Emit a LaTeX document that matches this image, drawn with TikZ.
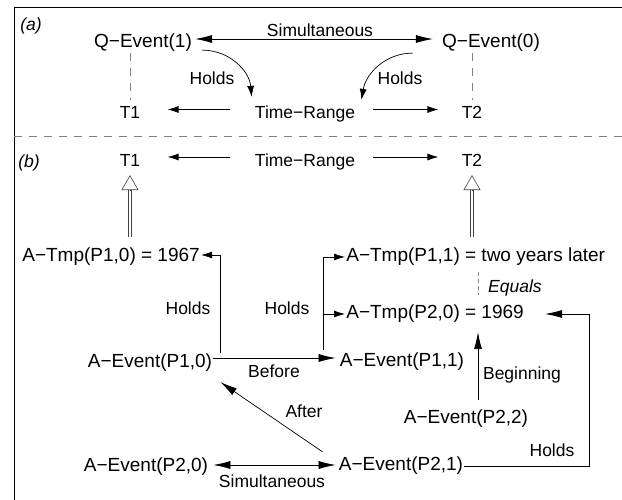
\documentclass[tikz,border=0pt]{standalone}
\usepackage{fontspec}
\setmainfont{Liberation Sans}
\usetikzlibrary{arrows.meta}
\begin{document}
\begin{tikzpicture}[x=1pt,y=1pt,line width=0.7pt]
          \tikzset{event node/.style={inner sep=1pt,text height=13.5pt,text depth=4pt,font=\fontsize{19}{21}\selectfont},
            rel label/.style={event node,font=\fontsize{17.5}{20}\selectfont},
            rel italic/.style={event node,font=\fontsize{17.5}{20}\selectfont\itshape},
            thin arrow/.style={-{Latex[length=11pt,width=7pt]}},
            big arrow/.style={-{Latex[length=17pt,width=8pt]}},
            both arrow/.style={{Latex[length=17pt,width=8pt]}-{Latex[length=17pt,width=8pt]}},
            gray dash/.style={draw=black!50,dash pattern=on 8pt off 7pt},
            eq dash/.style={draw=black!50,dash pattern=on 4pt off 3pt},
            double link/.style={draw=black!75,line width=0.6pt,double,double distance=2.5pt},
            open tip/.style={draw=black!75,line width=0.6pt,-{Triangle[open,length=15pt,width=17pt]}}}

          \useasboundingbox (0,0) rectangle (622,500);
          \draw[line width=1pt] (14,0) -- (14,492) -- (622,492);
          \draw[gray dash] (14,364) -- (622,364);

          \node [rel italic] (alabel) at (31,474) {(a)};
          \node [event node] (qe1) at (143,457) {Q−Event(1)};
          \node [event node] (qe0) at (491,457) {Q−Event(0)};
          \node [rel label] (simtop) at (320,468) {Simultaneous};
          \node [rel label] (holdsl) at (212,420) {Holds};
          \node [rel label] (holdsr) at (400,420) {Holds};
          \node [rel label] (t1a) at (130,386) {T1};
          \node [rel label] (tra) at (305,386) {Time−Range};
          \node [rel label] (t2a) at (472,386) {T2};

          \node [rel italic] (blabel) at (29,337) {(b)};
          \node [rel label] (t1b) at (130,338) {T1};
          \node [rel label] (trb) at (305,338) {Time−Range};
          \node [rel label] (t2b) at (472,338) {T2};

          \node [event node,anchor=west] (tmp10) at (21,243) {A−Tmp(P1,0) = 1967};
          \node [event node,anchor=west] (tmp11) at (345,243) {A−Tmp(P1,1) = two years later};
          \node [event node,anchor=west] (tmp20) at (345,186) {A−Tmp(P2,0) = 1969};
          \node [event node] (ev10) at (150,137) {A−Event(P1,0)};
          \node [event node] (ev11) at (402,138) {A−Event(P1,1)};
          \node [event node] (ev22) at (466,81) {A−Event(P2,2)};
          \node [event node] (ev20) at (146,33) {A−Event(P2,0)};
          \node [event node] (ev21) at (401,34) {A−Event(P2,1)};

          \node [rel label] (holds10) at (188,190) {Holds};
          \node [rel label] (holds11) at (287,190) {Holds};
          \node [rel label] (before) at (274,127) {Before};
          \node [rel label] (after) at (304,87) {After};
          \node [rel label] (simbot) at (272,17) {Simultaneous};
          \node [rel italic] (equals) at (515,212) {Equals};
          \node [rel label] (beginning) at (522,125) {Beginning};
          \node [rel label] (holds21) at (552,48) {Holds};

          \coordinate (eqx) at (478,0);
          \coordinate (eqtop) at (tmp11.south -| eqx);
          \coordinate (eqbot) at (tmp20.north -| eqx);
          \coordinate (begtop) at (tmp20.south -| eqx);
          \coordinate (begbot) at (ev22.north -| eqx);

          \draw[both arrow] ([xshift=2pt,yshift=4pt]qe1.east) -- ([xshift=-8pt,yshift=4pt]qe0.west);
          \draw[thin arrow] ([xshift=9pt,yshift=3pt]qe1.south east) to[out=0,in=95] ([xshift=-2pt,yshift=7pt]tra.north west);
          \draw[thin arrow] ([xshift=-28pt]qe0.south west) to[out=180,in=80] ([xshift=5pt,yshift=4pt]tra.north east);
          \draw[gray dash] (qe1.south -| t1a) -- ([yshift=4pt]t1a.north);
          \draw[gray dash] (qe0.south -| t2a) -- ([yshift=4pt]t2a.north);
          \draw[thin arrow] ([xshift=-24pt,yshift=4.5pt]tra.west) -- ([xshift=26pt,yshift=4.5pt]t1a.east);
          \draw[thin arrow] ([xshift=17pt,yshift=4.5pt]tra.east) -- ([xshift=-22pt,yshift=4.5pt]t2a.west);

          \draw[thin arrow] ([xshift=-24pt,yshift=5pt]trb.west) -- ([xshift=26pt,yshift=5pt]t1b.east);
          \draw[thin arrow] ([xshift=17pt,yshift=5pt]trb.east) -- ([xshift=-22pt,yshift=5pt]t2b.west);
          \draw[double link] ([yshift=-65pt]t1b.south) -- ([yshift=-18pt]t1b.south);
          \draw[open tip] ([yshift=-18pt]t1b.south) -- ([yshift=-3pt]t1b.south);
          \draw[double link] ([yshift=-65pt]t2b.south) -- ([yshift=-18pt]t2b.south);
          \draw[open tip] ([yshift=-18pt]t2b.south) -- ([yshift=-3pt]t2b.south);

          \draw[thin arrow] ([xshift=7pt]ev10.north east) |- ([yshift=2pt]tmp10.east);
          \draw[big arrow] ([yshift=5pt]ev10.east) -- ([xshift=-3pt,yshift=4pt]ev11.west);
          \draw[thin arrow] ([xshift=-15pt,yshift=2pt]ev11.north west) |- (tmp11.west);
          \draw[thin arrow] ([xshift=-15pt,yshift=2pt]ev11.north west) |- (tmp20.west);
          \draw[eq dash] ([yshift=-5pt]eqtop) -- ([yshift=9pt]eqbot);
          \draw[big arrow] ([yshift=9pt]begbot) -- ([yshift=-8pt]begtop);
          \draw[big arrow] (ev21.east) -- ++(125,0) |- ([xshift=20pt]tmp20.east);
          \draw[big arrow] ([xshift=-15pt,yshift=4pt]ev21.north west) -- ([xshift=7pt,yshift=-9pt]ev10.south east);
          \draw[both arrow] ([xshift=4pt,yshift=2pt]ev20.east) -- ([xshift=-2pt,yshift=1pt]ev21.west);

        \end{tikzpicture}
\end{document}
